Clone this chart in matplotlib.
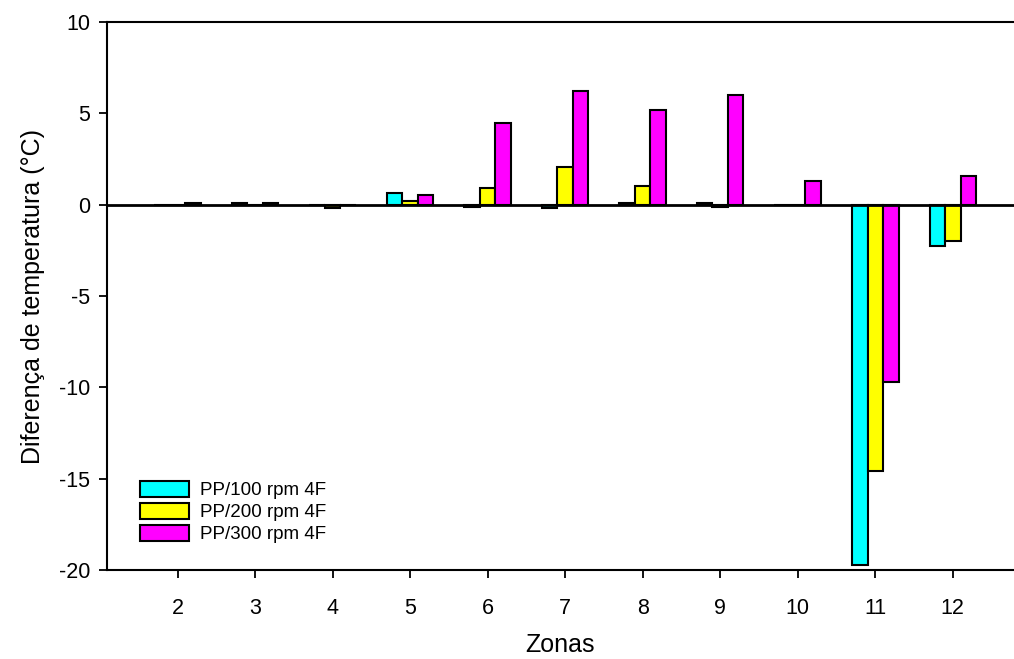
import matplotlib as mpl
mpl.use('Agg')
import matplotlib.pyplot as plt
import numpy as np

plt.rcParams['font.family'] = ['Liberation Sans', 'DejaVu Sans']
plt.rcParams['axes.unicode_minus'] = False

zonas = [2, 3, 4, 5, 6, 7, 8, 9, 10, 11, 12]
pp100 = [0.0, 0.1, 0.0, 0.64, -0.1, -0.2, 0.1, 0.1, 0.0, -19.75, -2.27]
pp200 = [0.0, 0.0, -0.2, 0.2, 0.91, 2.08, 1.0, -0.1, 0.0, -14.6, -1.97]
pp300 = [0.1, 0.1, 0.0, 0.53, 4.5, 6.2, 5.2, 6.0, 1.3, -9.7, 1.58]

series = [pp100, pp200, pp300]
labels = ['PP/100 rpm 4F', 'PP/200 rpm 4F', 'PP/300 rpm 4F']
colors = ['#00ffff', '#ffff00', '#ff00ff']

fig = plt.figure(figsize=(10.14, 6.59), dpi=100)
ax = fig.add_axes([0.1055, 0.135, 0.8945, 0.8315])

x = np.array(zonas, dtype=float)
w = 0.2
for i, (vals, lab, col) in enumerate(zip(series, labels, colors)):
    ax.bar(x + (i - 1) * w, vals, width=w, color=col, edgecolor='black',
           linewidth=1.5, label=lab, zorder=2)

ax.axhline(0, color='black', linewidth=2, zorder=3)

ax.set_xlim(1.088, 12.79)
ax.set_ylim(-20, 10)
ax.set_xticks(zonas)
ax.set_yticks([-20, -15, -10, -5, 0, 5, 10])

ax.spines['right'].set_visible(False)
for s in ['left', 'bottom', 'top']:
    ax.spines[s].set_linewidth(1.5)

ax.tick_params(axis='both', direction='out', length=6, width=1.3,
               labelsize=15.5, colors='black')
ax.tick_params(axis='x', pad=14)
ax.tick_params(axis='y', pad=6)

ax.set_xlabel('Zonas', fontsize=18, labelpad=10)
ax.set_ylabel('Diferença de temperatura (°C)', fontsize=18, labelpad=10)

ax.legend(loc='lower left', bbox_to_anchor=(0.022, 0.025), frameon=False,
          fontsize=13.5, handlelength=2.6, handleheight=0.9,
          labelspacing=0.2, handletextpad=0.6, borderpad=0.2)

fig.savefig('out.png', dpi=100)
